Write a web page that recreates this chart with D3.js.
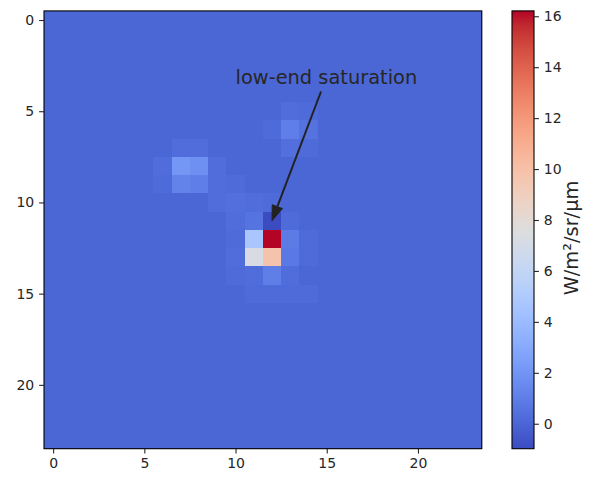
<!DOCTYPE html>
<html>
<head>
<meta charset="utf-8">
<script src="https://cdn.jsdelivr.net/npm/d3@7"></script>
<style>
  body { margin: 0; background: #fff; }
  svg text { font-family: "DejaVu Sans", sans-serif; fill: #262626; }
</style>
</head>
<body>
<svg id="chart" width="591" height="477"></svg>
<script>
// Radiance image, 24 x 24 pixels (row, column), in W/m²/sr/μm
const radiance = [
  [0,0,0,0,0,0,0,0,0,0,0,0,0,0,0,0,0,0,0,0,0,0,0,0],
  [0,0,0,0,0,0,0,0,0,0,0,0,0,0,0,0,0,0,0,0,0,0,0,0],
  [0,0,0,0,0,0,0,0,0,0,0,0,0,0,0,0,0,0,0,0,0,0,0,0],
  [0,0,0,0,0,0,0,0,0,0,0,0,0,0,0,0,0,0,0,0,0,0,0,0],
  [0,0,0,0,0,0,0,0,0,0,0,0,0,0,0,0,0,0,0,0,0,0,0,0],
  [0,0,0,0,0,0,0,0,0,0,0,0,0,0.3,0.2,0,0,0,0,0,0,0,0,0],
  [0,0,0,0,0,0,0,0,0,0,0,0,0.2,1.0,0.5,0,0,0,0,0,0,0,0,0],
  [0,0,0,0,0,0,0,0.3,0.3,0,0,0,0,0.4,0.2,0,0,0,0,0,0,0,0,0],
  [0,0,0,0,0,0,0.3,2.1,1.8,0.3,0,0,0,0,0,0,0,0,0,0,0,0,0,0],
  [0,0,0,0,0,0,0.2,1.2,1.0,0.3,0.2,0,0,0,0,0,0,0,0,0,0,0,0,0],
  [0,0,0,0,0,0,0,0,0,0.3,0.4,0.3,0.2,0,0,0,0,0,0,0,0,0,0,0],
  [0,0,0,0,0,0,0,0,0,0,0.3,0.6,-0.98,0.2,0,0,0,0,0,0,0,0,0,0],
  [0,0,0,0,0,0,0,0,0,0,0.2,4.7,16.21,0.9,0.2,0,0,0,0,0,0,0,0,0],
  [0,0,0,0,0,0,0,0,0,0,0.3,7.3,9.8,0.8,0.2,0,0,0,0,0,0,0,0,0],
  [0,0,0,0,0,0,0,0,0,0,0.2,0.3,1.0,0.3,0,0,0,0,0,0,0,0,0,0],
  [0,0,0,0,0,0,0,0,0,0,0,0.2,0.2,0.2,0.2,0,0,0,0,0,0,0,0,0],
  [0,0,0,0,0,0,0,0,0,0,0,0,0,0,0,0,0,0,0,0,0,0,0,0],
  [0,0,0,0,0,0,0,0,0,0,0,0,0,0,0,0,0,0,0,0,0,0,0,0],
  [0,0,0,0,0,0,0,0,0,0,0,0,0,0,0,0,0,0,0,0,0,0,0,0],
  [0,0,0,0,0,0,0,0,0,0,0,0,0,0,0,0,0,0,0,0,0,0,0,0],
  [0,0,0,0,0,0,0,0,0,0,0,0,0,0,0,0,0,0,0,0,0,0,0,0],
  [0,0,0,0,0,0,0,0,0,0,0,0,0,0,0,0,0,0,0,0,0,0,0,0],
  [0,0,0,0,0,0,0,0,0,0,0,0,0,0,0,0,0,0,0,0,0,0,0,0],
  [0,0,0,0,0,0,0,0,0,0,0,0,0,0,0,0,0,0,0,0,0,0,0,0]
];
const xTicks = [0, 5, 10, 15, 20];
const yTicks = [0, 5, 10, 15, 20];
const colorTicks = [0, 2, 4, 6, 8, 10, 12, 14, 16];
const unitLabel = "W/m²/sr/μm";
const noteText = "low-end saturation";
const noteTarget = [12, 11];   // column, row of the pointed pixel
const noteAnchor = [10, 3.5];  // text position in pixel coordinates

// Diverging cool-warm colour map (Moreland), 33 control points
const coolwarm = [
  [59,76,192],[68,90,204],[77,104,215],[87,117,225],[98,130,234],[108,142,241],
  [119,154,247],[130,165,251],[141,176,254],[152,185,255],[163,194,255],[174,201,253],
  [184,208,249],[194,213,244],[204,217,238],[213,219,230],[221,221,221],[229,216,209],
  [236,211,197],[241,204,185],[245,196,173],[247,187,160],[247,177,148],[247,166,135],
  [244,154,123],[241,141,111],[236,127,99],[229,112,88],[222,96,77],[213,80,66],
  [203,62,56],[192,40,47],[180,4,38]
].map(c => d3.rgb(c[0], c[1], c[2]).toString());
const cmapStops = coolwarm.map((_, i) => i / (coolwarm.length - 1));
const cmap = d3.scaleLinear().domain(cmapStops).range(coolwarm)
  .interpolate(d3.interpolateRgb).clamp(true);

const nRows = radiance.length, nCols = radiance[0].length;
const [vmin, vmax] = d3.extent(radiance.flat());
const norm = d3.scaleLinear().domain([vmin, vmax]).range([0, 1]).clamp(true);
const colour = v => cmap(norm(v));

const svg = d3.select("#chart");
const plot = { left: 44, top: 10.9, size: 437.8 };

const x = d3.scaleLinear().domain([-0.5, nCols - 0.5]).range([plot.left, plot.left + plot.size]);
const y = d3.scaleLinear().domain([-0.5, nRows - 0.5]).range([plot.top, plot.top + plot.size]);

const cells = [];
radiance.forEach((row, r) => row.forEach((v, c) => cells.push({ r, c, v })));

// Pixel edges are rounded so neighbouring cells tile without seams
const ex = c => Math.round(x(c - 0.5));
const ey = r => Math.round(y(r - 0.5));
svg.append("g").attr("shape-rendering", "crispEdges")
  .selectAll("rect").data(cells).join("rect")
  .attr("x", d => ex(d.c))
  .attr("y", d => ey(d.r))
  .attr("width", d => ex(d.c + 1) - ex(d.c))
  .attr("height", d => ey(d.r + 1) - ey(d.r))
  .attr("fill", d => colour(d.v));

svg.append("rect")
  .attr("x", plot.left).attr("y", plot.top)
  .attr("width", plot.size).attr("height", plot.size)
  .attr("fill", "none").attr("stroke", "#000").attr("stroke-width", 1.1);

const tickLen = 4.9, tickPad = 4.9;
const styleAxis = g => {
  g.select(".domain").remove();
  g.selectAll(".tick line").attr("stroke", "#262626").attr("stroke-width", 1.1);
  g.selectAll(".tick text").attr("font-size", 14).attr("fill", "#262626");
};

svg.append("g")
  .attr("transform", `translate(0,${plot.top + plot.size})`)
  .call(d3.axisBottom(x).tickValues(xTicks).tickSize(tickLen).tickPadding(tickPad))
  .call(styleAxis);

svg.append("g")
  .attr("transform", `translate(${plot.left},0)`)
  .call(d3.axisLeft(y).tickValues(yTicks).tickSize(tickLen).tickPadding(tickPad))
  .call(styleAxis);

// Colour bar
const bar = { left: 512, width: 22 };
const cy = d3.scaleLinear().domain([vmin, vmax]).range([plot.top + plot.size, plot.top]);
const grad = svg.append("defs").append("linearGradient")
  .attr("id", "cbar").attr("x1", 0).attr("y1", 1).attr("x2", 0).attr("y2", 0);
grad.selectAll("stop").data(coolwarm).join("stop")
  .attr("offset", (d, i) => cmapStops[i])
  .attr("stop-color", d => d);
svg.append("rect")
  .attr("x", bar.left).attr("y", plot.top)
  .attr("width", bar.width).attr("height", plot.size)
  .attr("fill", "url(#cbar)")
  .attr("stroke", "#000").attr("stroke-width", 1.1);

svg.append("g")
  .attr("transform", `translate(${bar.left + bar.width},0)`)
  .call(d3.axisRight(cy).tickValues(colorTicks).tickSize(tickLen).tickPadding(tickPad))
  .call(styleAxis);

svg.append("text")
  .attr("transform", `translate(578,238) rotate(-90)`)
  .attr("text-anchor", "middle")
  .attr("font-size", 19.4)
  .text(unitLabel);

// Annotation with arrow
const note = svg.append("text")
  .attr("x", x(noteAnchor[0])).attr("y", y(noteAnchor[1]))
  .attr("font-size", 19.4)
  .text(noteText);
const bb = note.node().getBBox();
const tx = x(noteTarget[0]), ty = y(noteTarget[1]);
const cx0 = bb.x + bb.width / 2, cy0 = bb.y + bb.height / 2;
const dx = tx - cx0, dy = ty - cy0;
const len = Math.hypot(dx, dy);
const ux = dx / len, uy = dy / len;
const tExit = (bb.y + bb.height - cy0) / dy;
const sx = cx0 + dx * tExit + ux * 2.8, sy = cy0 + dy * tExit + uy * 2.8;
const headLen = 15, headHalf = 5.5;
const bx = tx - ux * headLen, byy = ty - uy * headLen;
const arrowColour = "#222";
svg.append("line")
  .attr("x1", sx).attr("y1", sy).attr("x2", bx).attr("y2", byy)
  .attr("stroke", arrowColour).attr("stroke-width", 2);
svg.append("path")
  .attr("d", `M${tx},${ty}L${bx - uy * headHalf},${byy + ux * headHalf}L${bx + uy * headHalf},${byy - ux * headHalf}Z`)
  .attr("fill", arrowColour).attr("stroke", arrowColour).attr("stroke-width", 1);
</script>
</body>
</html>
